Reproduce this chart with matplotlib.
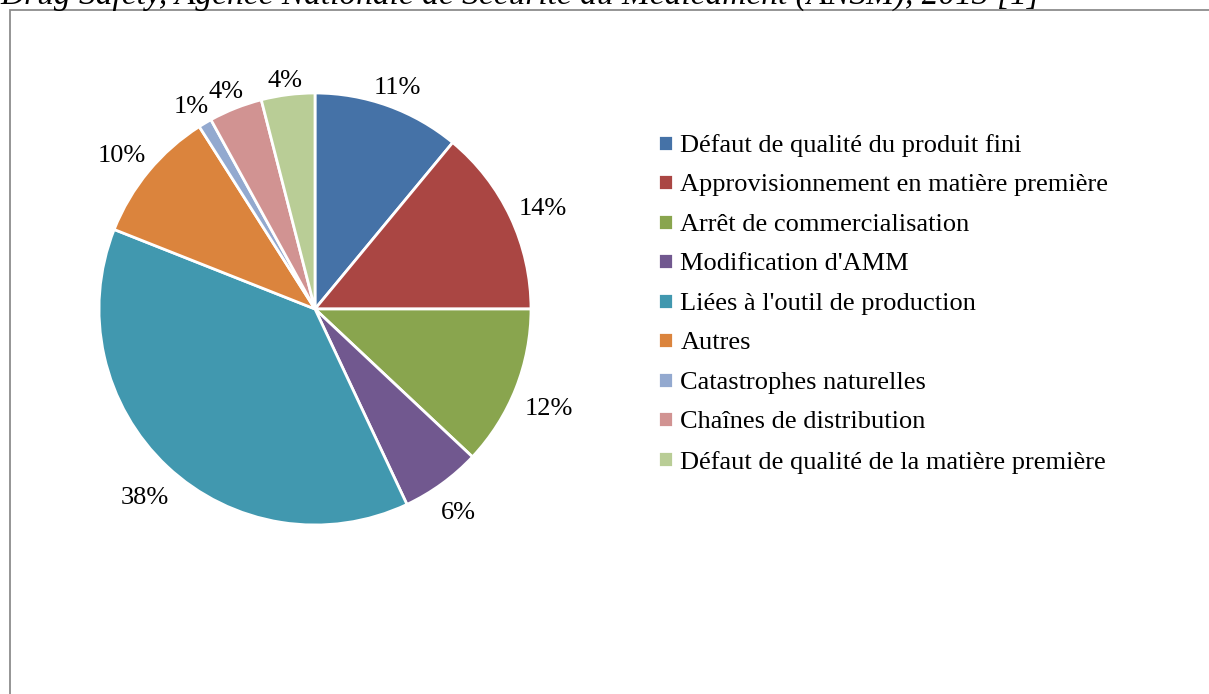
import numpy as np
import matplotlib.pyplot as plt
from matplotlib.patches import Rectangle


# 폰트 설정
plt.rcParams['font.family'] = ['Liberation Serif', 'DejaVu Serif']

# 데이터 준비
causes = [
    "Défaut de qualité du produit fini",
    "Approvisionnement en matière première",
    "Arrêt de commercialisation",
    "Modification d'AMM",
    "Liées à l'outil de production",
    "Autres",
    "Catastrophes naturelles",
    "Chaînes de distribution",
    "Défaut de qualité de la matière première",
]
shares = [11, 14, 12, 6, 38, 10, 1, 4, 4]
colors = ["#4572A7", "#AA4643", "#89A54E", "#71588F", "#4198AF",
          "#DB843D", "#93A9CF", "#D19392", "#B9CD96"]
caption = "Drug Safety, Agence Nationale de Sécurité du Médicament (ANSM), 2013 [1]"

W, H = 1209, 694
fig = plt.figure(figsize=(W / 100, H / 100), dpi=100)

# 바깥 테두리
fig.patches.append(Rectangle((10 / W, -0.1), 1.2, 1.1 - 10 / H,
                             transform=fig.transFigure, fill=False,
                             edgecolor="#8c8c8c", linewidth=1.3))

# 위에 잘린 캡션
fig.text(0.0, 1 - 4 / H, caption, fontsize=24, style="italic",
         va="baseline", ha="left", color="black")

# 파이 그래프
cx, cy, r = 315, 309, 216
ax = fig.add_axes([(cx - r) / W, (H - cy - r) / H, 2 * r / W, 2 * r / H])
wedges, texts, autotexts = ax.pie(
    shares, colors=colors, startangle=90, counterclock=False,
    autopct=lambda p: f"{p:.0f}%", pctdistance=1.13,
    wedgeprops=dict(edgecolor="white", linewidth=2),
    textprops=dict(fontsize=19, color="black"))
ax.set_xlim(-1, 1)
ax.set_ylim(-1, 1)

# 라벨을 원 바깥에 일정한 간격으로 (엑셀 방식)
fig.canvas.draw()
renderer = fig.canvas.get_renderer()
gap, shift, half_h = 10 / r, 7 / r, 9 / r
for w, t in zip(wedges, autotexts):
    ang = np.deg2rad((w.theta1 + w.theta2) / 2)
    half_w = t.get_window_extent(renderer).width / 2 / r
    d = 1 + gap + half_w * abs(np.cos(ang)) + half_h * abs(np.sin(ang))
    t.set_position((d * np.cos(ang), d * np.sin(ang) - shift))

# 범례
fig.legend(wedges, causes, loc="upper left",
           bbox_to_anchor=(658 / W, 1 - 134 / H),
           frameon=False, fontsize=19, handlelength=0.55,
           handleheight=0.55, handletextpad=0.3, labelspacing=0.652,
           borderpad=0, borderaxespad=0)

plt.savefig("out.png", dpi=100)
